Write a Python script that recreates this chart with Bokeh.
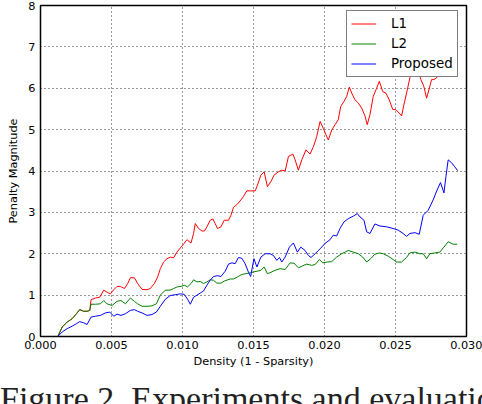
from bokeh.plotting import figure
from bokeh.layouts import column
from bokeh.models import Range1d, FixedTicker, PrintfTickFormatter, Legend, LegendItem, Div
from bokeh.embed import file_html
from bokeh.resources import INLINE

x_ticks = [0.000, 0.005, 0.010, 0.015, 0.020, 0.025, 0.030]
y_ticks = [0, 1, 2, 3, 4, 5, 6, 7, 8]

l1_x = [0.00122,0.00153,0.00188,0.00223,0.00253,0.00276,0.00304,0.00328,0.00347,0.00356,
        0.00387,0.00417,0.00445,0.00469,0.00492,0.00516,0.00539,0.00562,0.00591,0.00614,
        0.00633,0.00661,0.00684,0.00715,0.00750,0.00773,0.00802,0.00825,0.00844,0.00867,
        0.00891,0.00914,0.00937,0.00961,0.00989,0.01012,0.01031,0.01060,0.01078,0.01090,
        0.01113,0.01137,0.01155,0.01172,0.01195,0.01214,0.01230,0.01247,0.01271,0.01294,
        0.01324,0.01341,0.01359,0.01387,0.01411,0.01429,0.01453,0.01477,0.01512,0.01528,
        0.01552,0.01575,0.01598,0.01622,0.01645,0.01675,0.01699,0.01723,0.01746,0.01777,
        0.01793,0.01816,0.01840,0.01870,0.01898,0.01922,0.01945,0.01969,0.01992,0.02011,
        0.02027,0.02051,0.02074,0.02097,0.02114,0.02137,0.02156,0.02175,0.02192,0.02215,
        0.02238,0.02262,0.02285,0.02301,0.02320,0.02343,0.02367,0.02386,0.02410,0.02433,
        0.02456,0.02480,0.02503,0.02526,0.02543,0.02559,0.02583,0.02601,0.02620,0.02637,
        0.02658,0.02679,0.02700,0.02719,0.02737,0.02754,0.02770,0.02789,0.02812,0.02841,
        0.02871,0.02906,0.02937]
l1_y = [0,0.23,0.35,0.43,0.55,0.65,0.61,0.61,0.63,0.89,
        0.93,0.95,1.12,1.07,1.03,1.13,1.21,1.21,1.16,1.28,
        1.42,1.42,1.28,1.14,1.13,1.16,1.28,1.44,1.64,1.80,
        1.88,1.92,1.90,2.04,2.16,2.25,2.34,2.26,2.49,2.73,
        2.61,2.55,2.55,2.65,2.81,2.84,2.73,2.61,2.65,2.81,
        2.81,2.93,3.12,3.20,3.30,3.38,3.52,3.52,3.52,3.66,
        3.90,3.98,3.62,3.74,3.90,3.98,4.02,4.00,4.35,4.41,
        4.27,4.02,4.27,4.51,4.41,4.59,4.83,5.20,5.03,4.87,
        4.75,4.99,5.12,5.24,5.56,5.68,5.80,6.03,5.88,5.72,
        5.64,5.52,5.33,5.12,5.36,5.80,6.00,6.17,5.92,5.88,
        5.72,5.49,5.48,5.40,5.33,5.60,5.96,6.25,6.45,6.40,
        6.45,6.21,6.04,5.76,5.98,6.21,6.21,6.25,6.55,6.80,
        6.70,6.95,6.90]

l2_x = [0.00122,0.00153,0.00188,0.00223,0.00253,0.00276,0.00304,0.00328,0.00347,0.00356,
        0.00387,0.00422,0.00445,0.00469,0.00504,0.00539,0.00567,0.00598,0.00633,0.00661,
        0.00684,0.00715,0.00750,0.00785,0.00816,0.00844,0.00879,0.00914,0.00937,0.00965,
        0.00989,0.01012,0.01036,0.01060,0.01078,0.01102,0.01125,0.01148,0.01172,0.01195,
        0.01218,0.01242,0.01271,0.01294,0.01336,0.01359,0.01387,0.01418,0.01448,0.01477,
        0.01500,0.01528,0.01552,0.01575,0.01598,0.01622,0.01652,0.01687,0.01723,0.01758,
        0.01786,0.01816,0.01847,0.01875,0.01910,0.01934,0.01964,0.01988,0.02020,0.02051,
        0.02086,0.02121,0.02168,0.02203,0.02238,0.02269,0.02297,0.02325,0.02355,0.02386,
        0.02414,0.02449,0.02484,0.02508,0.02543,0.02578,0.02601,0.02637,0.02672,0.02695,
        0.02719,0.02742,0.02777,0.02812,0.02841,0.02871,0.02906,0.02934]
l2_y = [0,0.23,0.35,0.43,0.55,0.65,0.61,0.61,0.63,0.78,
        0.78,0.79,0.87,0.79,0.75,0.85,0.87,0.79,0.93,0.85,
        0.79,0.73,0.73,0.74,0.79,1.00,1.12,1.12,1.16,1.20,
        1.21,1.24,1.20,1.28,1.37,1.32,1.33,1.28,1.32,1.37,
        1.36,1.29,1.29,1.34,1.39,1.39,1.44,1.50,1.52,1.54,
        1.56,1.58,1.60,1.68,1.52,1.55,1.60,1.64,1.62,1.78,
        1.77,1.66,1.71,1.75,1.72,1.74,1.86,1.78,1.80,1.81,
        1.92,2.00,2.08,2.04,2.00,1.92,1.80,1.88,1.99,2.02,
        2.00,1.94,1.86,1.80,1.80,1.91,2.02,2.04,2.00,2.00,
        1.88,2.00,2.02,2.04,2.16,2.29,2.23,2.23]

prop_x = [0.00122,0.00153,0.00188,0.00223,0.00253,0.00276,0.00304,0.00328,0.00356,0.00387,
          0.00422,0.00457,0.00487,0.00516,0.00539,0.00567,0.00598,0.00633,0.00661,0.00684,
          0.00715,0.00750,0.00785,0.00816,0.00844,0.00879,0.00914,0.00949,0.00984,0.01012,
          0.01036,0.01055,0.01078,0.01102,0.01125,0.01148,0.01172,0.01195,0.01218,0.01247,
          0.01271,0.01301,0.01324,0.01348,0.01371,0.01394,0.01418,0.01441,0.01465,0.01480,
          0.01503,0.01524,0.01552,0.01582,0.01617,0.01640,0.01664,0.01683,0.01699,0.01723,
          0.01753,0.01781,0.01809,0.01833,0.01863,0.01886,0.01905,0.01934,0.01969,0.02004,
          0.02039,0.02062,0.02086,0.02109,0.02137,0.02168,0.02203,0.02231,0.02250,0.02278,
          0.02297,0.02320,0.02355,0.02391,0.02438,0.02484,0.02519,0.02554,0.02578,0.02601,
          0.02637,0.02667,0.02695,0.02730,0.02765,0.02793,0.02817,0.02841,0.02855,0.02871,
          0.02895,0.02918,0.02937]
prop_y = [0,0.11,0.19,0.25,0.31,0.36,0.33,0.29,0.47,0.49,
          0.51,0.57,0.59,0.49,0.54,0.51,0.55,0.63,0.65,0.61,
          0.57,0.51,0.53,0.59,0.73,0.90,0.99,1.01,1.03,1.02,
          0.90,0.78,0.95,1.00,1.05,1.10,1.24,1.36,1.45,1.47,
          1.45,1.58,1.75,1.78,1.76,1.91,1.89,1.76,1.55,1.45,
          1.88,1.68,1.92,2.00,2.00,1.96,1.84,1.91,1.80,1.92,
          2.16,2.26,2.04,2.16,2.08,1.96,1.91,2.00,2.12,2.25,
          2.34,2.45,2.43,2.61,2.77,2.85,2.91,2.97,2.89,2.81,
          2.53,2.49,2.72,2.67,2.65,2.61,2.57,2.49,2.42,2.49,
          2.51,2.47,2.93,3.05,3.30,3.54,3.72,3.47,3.86,4.27,
          4.20,4.10,4.01]

series_names = ["L1", "L2", "Proposed"]
caption = "Figure 2. Experiments and evaluation"

FONT = "DejaVu Sans"

p = figure(frame_width=426, frame_height=331,
           min_border_left=40, min_border_right=16, min_border_top=5, min_border_bottom=51,
           x_range=Range1d(0, 0.030), y_range=Range1d(0, 8),
           output_backend="svg", toolbar_location=None)
p.background_fill_color = "white"
p.border_fill_color = "white"
p.outline_line_color = "black"
p.outline_line_width = 1.5

for ax in (p.xaxis[0], p.yaxis[0]):
    ax.axis_line_color = None
    ax.major_tick_line_color = None
    ax.minor_tick_line_color = None
    ax.major_tick_in = 0
    ax.major_tick_out = 0
    ax.major_label_text_font = FONT
    ax.major_label_text_font_size = "11.3px"
    ax.major_label_text_color = "black"
    ax.axis_label_text_font = FONT
    ax.axis_label_text_font_size = "11.3px"
    ax.axis_label_text_font_style = "normal"
    ax.axis_label_text_color = "black"

p.xaxis.ticker = FixedTicker(ticks=x_ticks)
p.yaxis.ticker = FixedTicker(ticks=y_ticks)
p.xaxis.formatter = PrintfTickFormatter(format="%.3f")
p.xaxis.major_label_standoff = 4
p.yaxis.major_label_standoff = 5
p.xaxis.axis_label = "Density (1 - Sparsity)"
p.yaxis.axis_label = "Penalty Magnitude"
p.xaxis.axis_label_standoff = 3
p.yaxis.axis_label_standoff = 5

p.xgrid.ticker = FixedTicker(ticks=x_ticks)
p.ygrid.ticker = FixedTicker(ticks=y_ticks)
for g in (p.xgrid[0], p.ygrid[0]):
    g.grid_line_color = "black"
    g.grid_line_alpha = 0.8
    g.grid_line_width = 1
    g.grid_line_dash = "1 3"

r1 = p.line(l1_x, l1_y, line_color="#ff0000", line_width=1)
r2 = p.line(l2_x, l2_y, line_color="#008000", line_width=1)
r3 = p.line(prop_x, prop_y, line_color="#0000ff", line_width=1)

legend = Legend(items=[LegendItem(label=series_names[0], renderers=[r1]),
                       LegendItem(label=series_names[1], renderers=[r2]),
                       LegendItem(label=series_names[2], renderers=[r3])],
                location=(306, 259))
legend.border_line_color = "black"
legend.border_line_width = 1
legend.background_fill_color = "white"
legend.background_fill_alpha = 1
legend.label_text_font = FONT
legend.label_text_font_size = "13.4px"
legend.label_text_color = "black"
legend.glyph_width = 25
legend.glyph_height = 17
legend.label_height = 17
legend.label_standoff = 15
legend.spacing = 3
legend.padding = 4
legend.margin = 0
p.add_layout(legend)

# caption strip below the chart (only the top of the caption is visible, as in the reference)
cap_div = Div(text=caption, width=482, height=17,
              styles={"font-family": "'Liberation Serif', serif", "font-size": "34px",
                      "line-height": "24px", "white-space": "nowrap", "overflow": "hidden",
                      "color": "#222222", "margin": "0", "padding": "0"})

layout = column(p, cap_div, spacing=0)

open("out.html", "w").write(file_html(layout, INLINE))
